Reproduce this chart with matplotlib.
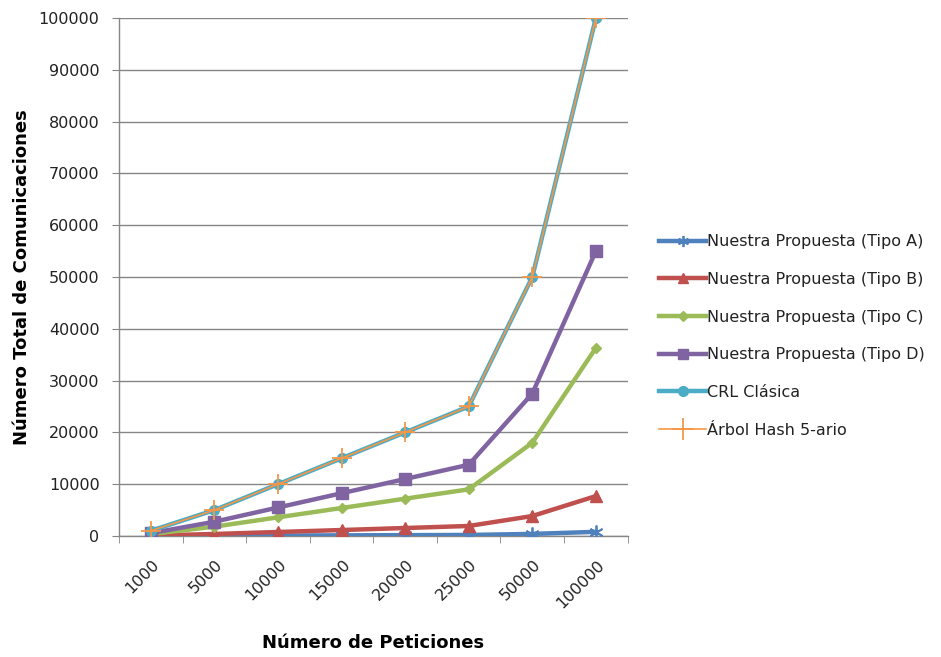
import matplotlib
matplotlib.use("Agg")
import matplotlib.pyplot as plt
import matplotlib.transforms as mtransforms
import numpy as np

# ── datos ─────────────────────────────────────────────────────────────────────
peticiones = ["1000", "5000", "10000", "15000", "20000", "25000", "50000", "100000"]
tipo_a = [10, 40, 80, 120, 160, 200, 400, 800]
tipo_b = [80, 390, 770, 1150, 1540, 1930, 3850, 7700]
tipo_c = [360, 1800, 3600, 5400, 7200, 9000, 18000, 36300]
tipo_d = [550, 2750, 5500, 8250, 11000, 13750, 27500, 55000]
crl_clasica = [1000, 5000, 10000, 15000, 20000, 25000, 50000, 100000]
arbol_hash = [1000, 5000, 10000, 15000, 20000, 25000, 50000, 100000]
y_ticks = list(range(0, 100001, 10000))

plt.rcParams["font.family"] = ["DejaVu Sans"]

fig = plt.figure(figsize=(9.41, 6.57), dpi=100)
ax = fig.add_axes([0.1265, 0.1842, 0.5405, 0.7884])

x = np.arange(len(peticiones))
lw = 3.2

ax.plot(x, tipo_a, color="#4F81BD", lw=lw, marker=(6, 2, 0), ms=10, mew=1.3,
        label="Nuestra Propuesta (Tipo A)", zorder=3)
ax.plot(x, tipo_b, color="#C0504D", lw=lw, marker="^", ms=9,
        label="Nuestra Propuesta (Tipo B)", zorder=3)
ax.plot(x, tipo_c, color="#9BBB59", lw=lw, marker="D", ms=5.5,
        label="Nuestra Propuesta (Tipo C)", zorder=3)
ax.plot(x, tipo_d, color="#8064A2", lw=lw, marker="s", ms=8,
        label="Nuestra Propuesta (Tipo D)", zorder=3)
ax.plot(x, crl_clasica, color="#4BACC6", lw=lw, marker="o", ms=7,
        label="CRL Clásica", zorder=3)
ax.plot(x, arbol_hash, color="#F79646", lw=1.2, marker="+", ms=14, mew=1.3,
        label="Árbol Hash 5-ario", zorder=4)

# ejes
ax.set_xlim(-0.5, len(peticiones) - 0.5)
ax.set_ylim(0, 100000)
ax.set_yticks(y_ticks)
ax.set_yticklabels([str(v) for v in y_ticks], fontsize=11.5, color="#222222")
ax.set_xticks(x)
ax.set_xticklabels(peticiones, rotation=45, ha="right", va="center",
                   rotation_mode="anchor", fontsize=11.5, color="#222222")
ax.tick_params(axis="x", length=0, pad=19)
shift = mtransforms.ScaledTranslation(0.06, 0, fig.dpi_scale_trans)
for lab in ax.get_xticklabels():
    lab.set_transform(lab.get_transform() + shift)
ax.set_xticks(np.arange(-0.5, len(peticiones)), minor=True)
ax.tick_params(axis="x", which="minor", length=5, color="#868686", direction="out")
ax.tick_params(axis="y", length=5, color="#868686", direction="out", pad=9)

ax.grid(axis="y", color="#868686", lw=1.0, zorder=0)
for s in ["top", "right"]:
    ax.spines[s].set_visible(False)
for s in ["left", "bottom"]:
    ax.spines[s].set_color("#868686")
    ax.spines[s].set_linewidth(1.0)

ax.set_ylabel("Número Total de Comunicaciones", fontsize=13, fontweight="bold")
ax.yaxis.set_label_coords(-0.174, 0.5)
ax.set_xlabel("Número de Peticiones", fontsize=13, fontweight="bold")
ax.xaxis.set_label_coords(0.5, -0.19)

leg = ax.legend(loc="center left", bbox_to_anchor=(1.05, 0.386), frameon=False,
                fontsize=11.5, labelspacing=1.42, handlelength=2.9,
                handletextpad=0.1, borderaxespad=0)
for t in leg.get_texts():
    t.set_color("#222222")
for h, ms in zip(leg.legend_handles, [8, 7, 5, 7, 7, 16]):
    h.set_markersize(ms)

fig.savefig("out.png", dpi=100)
